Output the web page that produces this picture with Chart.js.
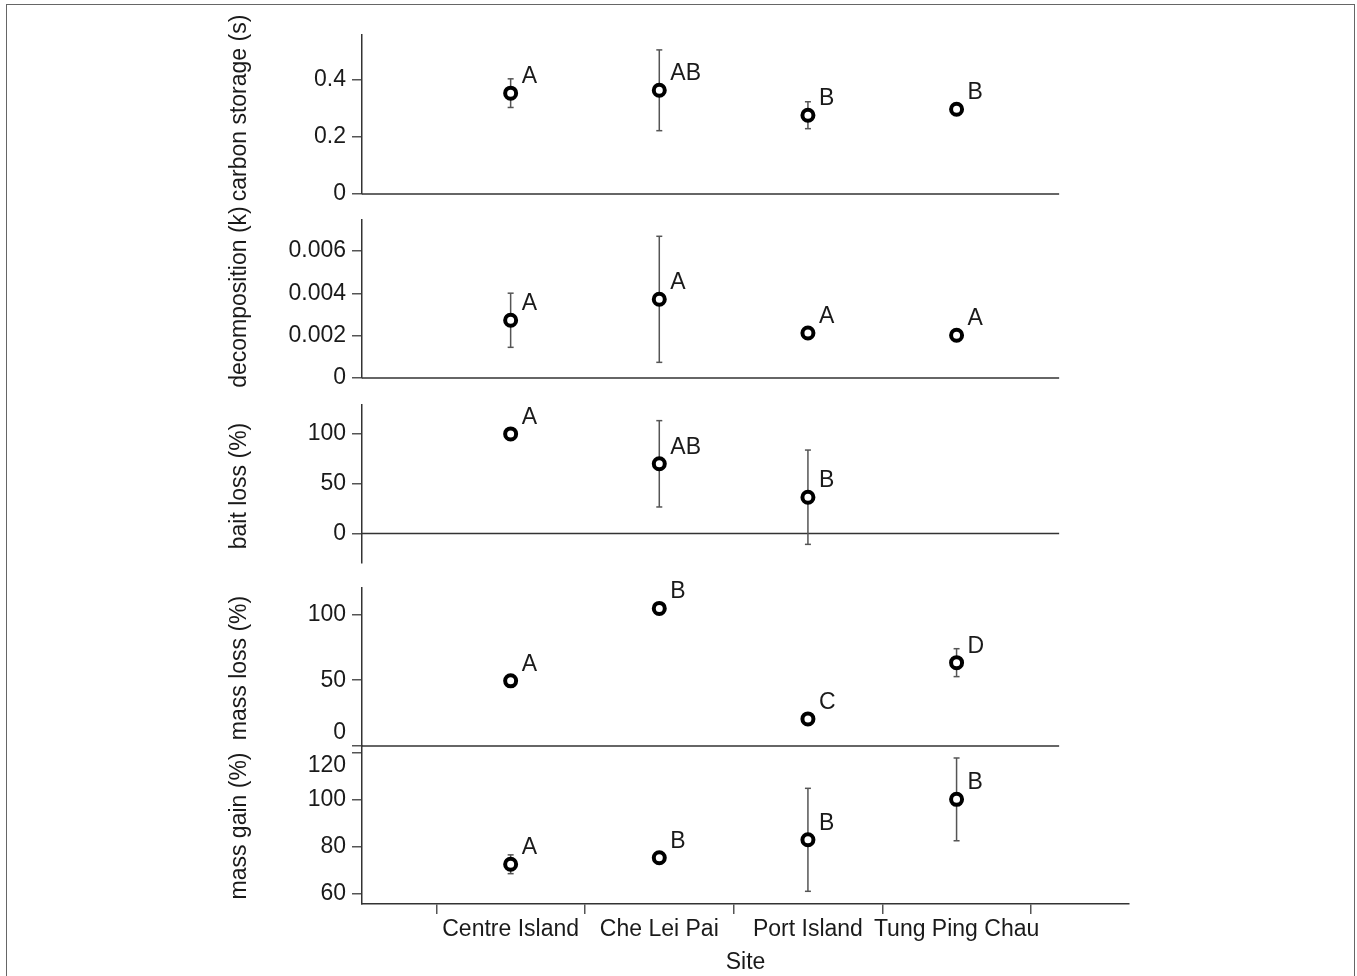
<!DOCTYPE html>
<html>
<head>
<meta charset="utf-8">
<title>Site comparison</title>
<script src="https://cdn.jsdelivr.net/npm/chart.js@4.4.1/dist/chart.umd.min.js"></script>
<style>
  html, body { margin: 0; padding: 0; background: #fff; }
  #page  { position: relative; width: 1357px; height: 976px; overflow: hidden; }
  #frame { position: absolute; left: 6px; top: 4px; width: 1347px; height: 1000px; border: 1.5px solid #666; }
  canvas { position: absolute; left: 0; top: 0; }
</style>
</head>
<body>
<div id="page">
  <div id="frame"></div>
  <canvas id="p0" width="1357" height="976"></canvas>
  <canvas id="p1" width="1357" height="976"></canvas>
  <canvas id="p2" width="1357" height="976"></canvas>
  <canvas id="p3" width="1357" height="976"></canvas>
  <canvas id="p4" width="1357" height="976"></canvas>
</div>
<script>
// ── Data ─────────────────────────────────────────────────────
const sites = ["Centre Island", "Che Lei Pai", "Port Island", "Tung Ping Chau"];

const carbonMean    = [0.352, 0.362, 0.275, 0.296];
const carbonErr     = [0.05, 0.141, 0.047, 0.01];
const carbonLetters = ["A", "AB", "B", "B"];
const carbonTicks   = [0, 0.2, 0.4];

const decompMean    = [0.00273, 0.00372, 0.00213, 0.00202];
const decompErr     = [0.00128, 0.00298, 0, 0.0002];
const decompLetters = ["A", "A", "A", "A"];
const decompTicks   = [0, 0.002, 0.004, 0.006];

const baitMean    = [100, 70, 36.5, null];
const baitErr     = [0, 43.3, 47.3, null];
const baitLetters = ["A", "AB", "B", null];
const baitTicks   = [0, 50, 100];

const massLossMean    = [49.5, 104.5, 20.6, 63.3];
const massLossErr     = [0, 0, 0, 10.6];
const massLossLetters = ["A", "B", "C", "D"];
const massLossTicks   = [0, 50, 100];

const massGainMean    = [72.4, 75.2, 82.8, 100];
const massGainErr     = [4, 0, 21.9, 17.6];
const massGainLetters = ["A", "B", "B", "B"];
const massGainTicks   = [60, 80, 100, 120];

// ── Layout (page pixels) ─────────────────────────────────────
const W = 1357, H = 976;
const areaLeft = 362, areaRight = 1129;
const panelTop    = [35, 220, 405, 588, 746];
const panelBottom = [194, 378, 563, 746, 904];
const titleX   = 240;
const titleMid = [108, 297, 486, 668, 826];   // y centre of each side title
const xMin = -1, xMax = 4.16;       // category index range of the shared x axis
const axisEnds = [-1, 3.69];        // the short zero lines of the upper panels
const catHalf = (areaRight - areaLeft) / (xMax - xMin) / 2;

const FONT  = { family: "'Liberation Sans', Arial, Helvetica, sans-serif", size: 23 };
const TEXT  = "#1a1a1a";
const AXIS  = "#333";

const panels = [
  { id: "p0", title: "carbon storage (s)", mean: carbonMean,   err: carbonErr,   letters: carbonLetters,   ticks: carbonTicks,   range: [0, 0.555] },
  { id: "p1", title: "decomposition (k)",  mean: decompMean,   err: decompErr,   letters: decompLetters,   ticks: decompTicks,   range: [0, 0.00747] },
  { id: "p2", title: "bait loss (%)",      mean: baitMean,     err: baitErr,     letters: baitLetters,     ticks: baitTicks,     range: [-29.5, 129] },
  { id: "p3", title: "mass loss (%)",      mean: massLossMean, err: massLossErr, letters: massLossLetters, ticks: massLossTicks, range: [0, 120],
    label: v => v === 0 ? ["0", ""] : String(v) },      // lift the 0 clear of the panel below
  { id: "p4", title: "mass gain (%)",      mean: massGainMean, err: massGainErr, letters: massGainLetters, ticks: massGainTicks, range: [55.5, 122.7],
    label: v => v === 120 ? ["", "120"] : String(v) }   // push 120 down a bit
];

// ── Letters + rotated side titles ────────────────────────────
const letterPlugin = {
  id: "letters",
  afterDatasetsDraw(chart, args, opts) {
    const ctx  = chart.ctx;
    const meta = chart.getDatasetMeta(0);
    ctx.save();
    ctx.font = `${FONT.size}px ${FONT.family}`;
    ctx.fillStyle = TEXT;
    ctx.textAlign = "left";
    ctx.textBaseline = "alphabetic";
    meta.data.forEach((pt, i) => {
      const t = opts.letters[i];
      if (!t || pt.skip) return;
      ctx.fillText(t, pt.x + 11, pt.y - 10);
    });

    // y title, rotated
    ctx.translate(titleX, opts.mid);
    ctx.rotate(-Math.PI / 2);
    ctx.textAlign = "center";
    ctx.textBaseline = "middle";
    ctx.fillText(opts.title, 0, 0);
    ctx.restore();
  }
};

// ── One panel ────────────────────────────────────────────────
function makePanel(p, i) {
  const last = i === panels.length - 1;

  const pts = p.mean.map((v, k) => ({ x: k, y: v }));
  const bars = [];
  p.mean.forEach((v, k) => {
    if (v === null || !p.err[k]) return;
    bars.push({ x: k, y: v - p.err[k] }, { x: k, y: v + p.err[k] }, { x: k, y: null });
  });

  const datasets = [
    { data: pts, showLine: false, order: 0, clip: false,
      pointRadius: 5.5, pointBorderWidth: 4, pointBorderColor: "#000", pointBackgroundColor: "#fff" },
    { data: bars, order: 1, clip: false, spanGaps: false,
      borderColor: "#555", borderWidth: 1.5,
      pointStyle: "line", pointRadius: 3, pointBorderColor: "#555", pointBorderWidth: 1.5 }
  ];
  if (!last) {
    datasets.push({ data: axisEnds.map(x => ({ x, y: 0 })), order: 2, clip: false,
      borderColor: AXIS, borderWidth: 1.5, pointRadius: 0 });
  }

  const xScale = last ? {
    type: "linear", min: xMin, max: xMax,
    afterBuildTicks: s => { s.ticks = sites.map((_, k) => ({ value: k - 0.5 })).concat({ value: sites.length - 0.5 }); },
    afterFit: s => { s.height = 72; },
    ticks: { autoSkip: false, minRotation: 0, maxRotation: 0, labelOffset: catHalf, padding: 2,
             color: TEXT, font: FONT, callback: (v, k) => sites[k] || "" },
    grid: { drawOnChartArea: false, drawTicks: true, tickLength: 10, color: "#555", lineWidth: 1.5 },
    border: { display: true, color: AXIS, width: 1.5 },
    title: { display: true, text: "Site", color: TEXT, font: FONT, padding: { top: 0, bottom: 0 } }
  } : { type: "linear", min: xMin, max: xMax, display: false };

  new Chart(document.getElementById(p.id), {
    type: "line",
    data: { datasets },
    options: {
      responsive: false,
      animation: false,
      events: [],
      layout: {
        autoPadding: false,
        padding: { left: 220, right: W - areaRight, top: panelTop[i], bottom: last ? 0 : H - panelBottom[i] }
      },
      plugins: {
        legend: { display: false },
        tooltip: { enabled: false },
        letters: { letters: p.letters, title: p.title, mid: titleMid[i] }
      },
      scales: {
        x: xScale,
        y: {
          type: "linear", min: p.range[0], max: p.range[1],
          afterBuildTicks: s => { s.ticks = p.ticks.map(v => ({ value: v })); },
          afterFit: s => { s.width = areaLeft - 220; },
          ticks: { autoSkip: false, padding: 6, color: TEXT, font: FONT,
                   callback: v => p.label ? p.label(v) : String(v) },
          grid: { drawOnChartArea: false, drawTicks: true, tickLength: 10, color: "#555", lineWidth: 1.5 },
          border: { display: true, color: AXIS, width: 1.5 }
        }
      }
    },
    plugins: [letterPlugin]
  });
}

panels.forEach(makePanel);
</script>
</body>
</html>
